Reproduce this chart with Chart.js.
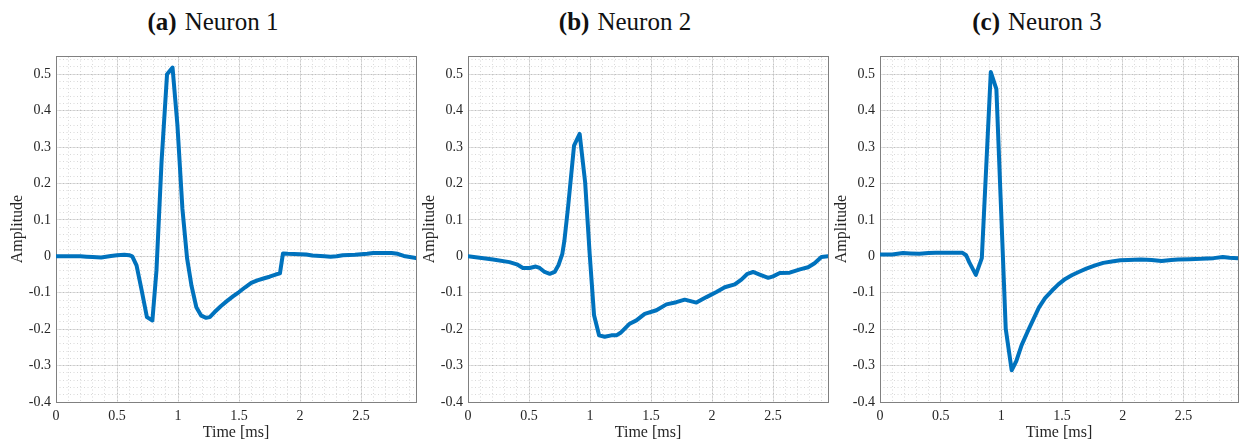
<!DOCTYPE html>
<html>
<head>
<meta charset="utf-8">
<script src="https://cdn.jsdelivr.net/npm/chart.js@4.4.1/dist/chart.umd.min.js"></script>
<style>
  body { margin: 0; background: #fff; width: 1239px; height: 441px; overflow: hidden; position: relative; }
  canvas { position: absolute; top: 0; }
  .title { position: absolute; top: 7px; width: 300px; text-align: center;
           font-family: "Liberation Serif", serif; font-size: 25px; line-height: 30px; color: #111; }
  .title b { margin-right: 8px; }
</style>
</head>
<body>
<div class="title" style="left:63px"><b>(a)</b>Neuron 1</div>
<div class="title" style="left:475px"><b>(b)</b>Neuron 2</div>
<div class="title" style="left:887px"><b>(c)</b>Neuron 3</div>
<canvas id="chart1" width="420" height="441" style="left:0px"></canvas>
<canvas id="chart2" width="420" height="441" style="left:412px"></canvas>
<canvas id="chart3" width="415" height="441" style="left:824px"></canvas>
<script>
// dữ liệu (thời gian ms, biên độ)
const neuron1Time = [0, 0.1, 0.2, 0.25, 0.3, 0.37, 0.45, 0.5, 0.56, 0.6, 0.625, 0.66, 0.7, 0.745, 0.79, 0.823, 0.865, 0.91, 0.955, 0.995, 1.036, 1.074, 1.11, 1.15, 1.19, 1.23, 1.26, 1.3, 1.35, 1.4, 1.45, 1.5, 1.55, 1.6, 1.65, 1.7, 1.75, 1.8, 1.835, 1.86, 1.9, 2.0, 2.05, 2.1, 2.2, 2.25, 2.3, 2.35, 2.45, 2.55, 2.6, 2.7, 2.75, 2.8, 2.85, 2.95];
const neuron1Amp = [0, 0, 0, -0.001, -0.002, -0.003, 0.001, 0.003, 0.004, 0.003, 0, -0.025, -0.09, -0.167, -0.176, -0.04, 0.26, 0.5, 0.518, 0.36, 0.13, -0.005, -0.08, -0.14, -0.163, -0.169, -0.167, -0.153, -0.137, -0.123, -0.11, -0.098, -0.085, -0.073, -0.066, -0.061, -0.056, -0.05, -0.047, 0.008, 0.007, 0.006, 0.005, 0.002, 0, -0.001, 0, 0.003, 0.004, 0.007, 0.009, 0.009, 0.009, 0.007, 0.001, -0.005];

const neuron2Time = [0, 0.205, 0.34, 0.4, 0.45, 0.505, 0.555, 0.587, 0.628, 0.67, 0.71, 0.743, 0.773, 0.79, 0.82, 0.869, 0.915, 0.96, 0.997, 1.033, 1.074, 1.12, 1.175, 1.216, 1.25, 1.325, 1.38, 1.448, 1.544, 1.626, 1.707, 1.776, 1.872, 1.954, 2.036, 2.104, 2.186, 2.24, 2.29, 2.336, 2.39, 2.46, 2.5, 2.555, 2.636, 2.72, 2.787, 2.84, 2.896, 2.95];
const neuron2Amp = [0, -0.009, -0.016, -0.022, -0.032, -0.032, -0.028, -0.032, -0.043, -0.048, -0.043, -0.023, 0.007, 0.043, 0.135, 0.304, 0.336, 0.203, 0.007, -0.162, -0.217, -0.221, -0.217, -0.217, -0.21, -0.185, -0.176, -0.158, -0.148, -0.132, -0.126, -0.119, -0.127, -0.112, -0.098, -0.085, -0.077, -0.064, -0.048, -0.043, -0.05, -0.059, -0.055, -0.046, -0.045, -0.036, -0.03, -0.019, -0.002, 0];

const neuron3Time = [0, 0.1, 0.19, 0.25, 0.325, 0.4, 0.46, 0.55, 0.68, 0.71, 0.735, 0.79, 0.839, 0.913, 0.959, 1.036, 1.085, 1.123, 1.167, 1.227, 1.309, 1.36, 1.418, 1.47, 1.527, 1.58, 1.637, 1.7, 1.773, 1.84, 1.91, 1.98, 2.046, 2.15, 2.238, 2.32, 2.4, 2.456, 2.55, 2.648, 2.75, 2.825, 2.88, 2.95];
const neuron3Amp = [0.005, 0.005, 0.009, 0.008, 0.007, 0.009, 0.01, 0.01, 0.0096, 0.003, -0.016, -0.051, -0.005, 0.506, 0.459, -0.199, -0.313, -0.288, -0.244, -0.199, -0.141, -0.115, -0.094, -0.077, -0.062, -0.052, -0.043, -0.034, -0.025, -0.018, -0.014, -0.011, -0.01, -0.009, -0.01, -0.013, -0.01, -0.009, -0.008, -0.007, -0.005, -0.002, -0.004, -0.005];

const timeRange = [0, 2.95];
const ampRange = [-0.4, 0.55];
const xLabel = 'Time [ms]';
const yLabel = 'Amplitude';

const serif = 'Liberation Serif';
const textColor = '#262626';
const boxColor = '#808080';

// nhãn kiểu MATLAB: 1 thay vì 1.0
function tickLabel(v) {
    return String(Math.round(v * 10) / 10);
}

function makeChart(canvasId, time, amp, padRight) {
    const ctx = document.getElementById(canvasId).getContext('2d');
    const points = time.map((t, i) => ({ x: t, y: amp[i] }));

    return new Chart(ctx, {
        type: 'line',
        data: {
            datasets: [{
                data: points,
                borderColor: '#0072BD',
                borderWidth: 4,
                pointRadius: 0,
                tension: 0,
                borderJoinStyle: 'round',
                borderCapStyle: 'round',
            }],
        },
        options: {
            responsive: false,
            animation: false,
            devicePixelRatio: 1,
            layout: { padding: { top: 56, right: padRight, left: 0, bottom: 0 } },
            plugins: { legend: { display: false }, tooltip: { enabled: false } },
            scales: {
                x: {
                    type: 'linear', position: 'bottom',
                    min: timeRange[0], max: timeRange[1],
                    ticks: { stepSize: 0.5, includeBounds: false, padding: 6, autoSkip: false, maxRotation: 0,
                             callback: tickLabel,
                             color: textColor, font: { family: serif, size: 14 } },
                    grid: { color: '#e2e2e2', drawTicks: false },
                    border: { color: boxColor },
                    title: { display: true, text: xLabel, color: textColor,
                             font: { family: serif, size: 16, lineHeight: 1 }, padding: 0 },
                    afterFit: s => { s.height = 39; },
                },
                y: {
                    type: 'linear', position: 'left',
                    min: ampRange[0], max: ampRange[1],
                    ticks: { stepSize: 0.1, includeBounds: false, padding: 5,
                             callback: tickLabel,
                             color: textColor, font: { family: serif, size: 14 } },
                    grid: { color: '#e2e2e2', drawTicks: false },
                    border: { color: boxColor },
                    title: { display: true, text: yLabel, color: textColor,
                             font: { family: serif, size: 16 }, padding: { top: 8, bottom: 0 } },
                    afterFit: s => { s.width = 56; },
                },
                // lưới phụ dạng chấm
                xMinor: {
                    type: 'linear', position: 'top',
                    min: timeRange[0], max: timeRange[1],
                    ticks: { display: false, stepSize: 0.1, includeBounds: false },
                    grid: { color: 'rgba(0,0,0,0.15)', drawTicks: false },
                    border: { color: boxColor, dash: [1, 2.5] },
                    afterFit: s => { s.height = 0; },
                },
                yMinor: {
                    type: 'linear', position: 'right',
                    min: ampRange[0], max: ampRange[1],
                    ticks: { display: false, stepSize: 0.02, includeBounds: false },
                    grid: { color: 'rgba(0,0,0,0.15)', drawTicks: false },
                    border: { color: boxColor, dash: [1, 2.5] },
                    afterFit: s => { s.width = 0; },
                },
            },
        },
    });
}

makeChart('chart1', neuron1Time, neuron1Amp, 4);
makeChart('chart2', neuron2Time, neuron2Amp, 4);
makeChart('chart3', neuron3Time, neuron3Amp, 1);
</script>
</body>
</html>
